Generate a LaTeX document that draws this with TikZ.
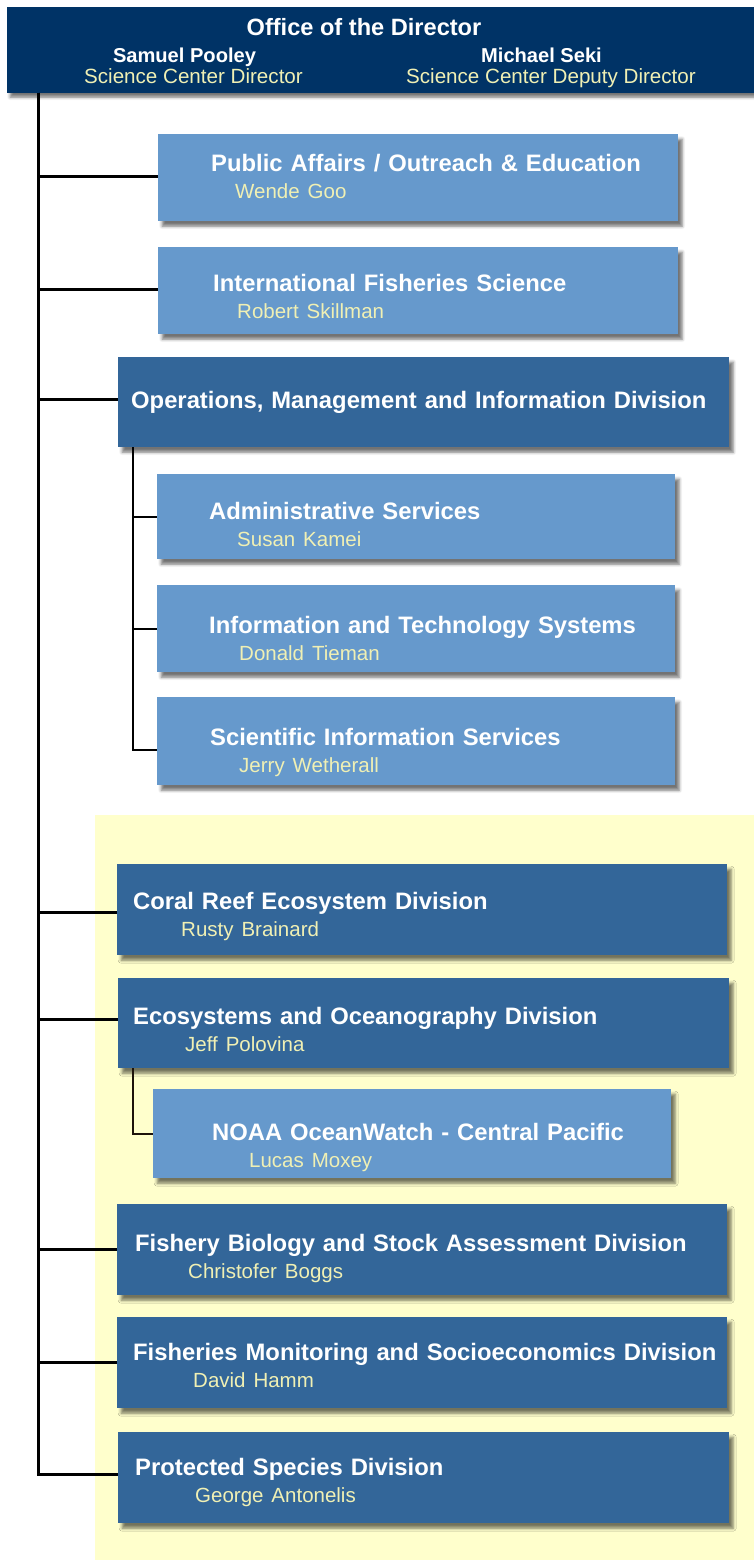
\documentclass[tikz,border=0pt]{standalone}
\usepackage{fontspec}
\setmainfont{Liberation Sans}
\usetikzlibrary{shadows.blur}
\definecolor{navy}{HTML}{003366}
\definecolor{darkblue}{HTML}{336699}
\definecolor{lightblue}{HTML}{6699CC}
\definecolor{paleyellow}{HTML}{FFFFCC}
\definecolor{nameyellow}{HTML}{F0F0B4}
\newcommand{\boxtitle}{\fontsize{23.8}{27}\selectfont\bfseries}
\newcommand{\boxname}{\fontsize{20.5}{27}\selectfont\mdseries\color{nameyellow}}
\tikzset{unit/.style={ % Sets the properties for each division box
rectangle, anchor=north west, inner sep=0pt,
align=left, text depth=32pt, % Title line plus name line
font=\boxtitle, text=white,
blur shadow={shadow xshift=4pt, shadow yshift=-5pt, shadow blur radius=3pt, shadow opacity=55}},
lightunit/.style={unit, fill=lightblue}, % Offices and branches
darkunit/.style={unit, fill=darkblue}, % Divisions
headline/.style={anchor=base, inner sep=0pt, text=white, font=\fontsize{23.6}{26}\selectfont\bfseries},
headname/.style={anchor=base, inner sep=0pt, text=white, font=\fontsize{20.1}{24}\selectfont\bfseries},
headrole/.style={anchor=base, inner sep=0pt, text=nameyellow, font=\fontsize{20.6}{24}\selectfont},
link/.style={draw, line width=3pt}, % Lines from the director
sublink/.style={draw, line width=2pt}} % Lines inside a division

\begin{document}
\begin{tikzpicture}[x=1pt, y=-1pt]
    \useasboundingbox (0,0) rectangle (754,1560);
    \fill[paleyellow] (95,815) rectangle (760,1565);

    % boxes
    \node[lightunit, text width=520, minimum height=87, text height=20] (pa) at (158,134)
        {\hspace*{53pt}Public Affairs / Outreach \& Education\\\hspace*{77pt}{\boxname Wende Goo}};
    \node[lightunit, text width=520, minimum height=87, text height=34] (ifs) at (158,247)
        {\hspace*{55pt}International Fisheries Science\\\hspace*{79pt}{\boxname Robert Skillman}};
    \node[darkunit, text width=611, minimum height=90, text height=18, text depth=5] (ops) at (118,357)
        {\hspace*{13pt}Operations, Management and Information Division};
    \node[lightunit, text width=518, minimum height=85, text height=38] (adm) at (157,474)
        {\hspace*{52pt}Administrative Services\\\hspace*{80pt}{\boxname Susan Kamei}};
    \node[lightunit, text width=518, minimum height=87, text height=42] (its) at (157,585)
        {\hspace*{52pt}Information and Technology Systems\\\hspace*{82pt}{\boxname Donald Tieman}};
    \node[lightunit, text width=518, minimum height=88, text height=41] (sis) at (157,697)
        {\hspace*{53pt}Scientific Information Services\\\hspace*{82pt}{\boxname Jerry Wetherall}};
    \node[darkunit, text width=610, minimum height=91, text height=32] (cre) at (117,864)
        {\hspace*{16pt}Coral Reef Ecosystem Division\\\hspace*{64pt}{\boxname Rusty Brainard}};
    \node[darkunit, text width=611, minimum height=90, text height=35] (eco) at (118,978)
        {\hspace*{15pt}Ecosystems and Oceanography Division\\\hspace*{67pt}{\boxname Jeff Polovina}};
    \node[lightunit, text width=518, minimum height=89, text height=45] (noaa) at (153,1089)
        {\hspace*{59pt}NOAA OceanWatch - Central Pacific\\\hspace*{96pt}{\boxname Lucas Moxey}};
    \node[darkunit, text width=610, minimum height=91, text height=36] (fbs) at (117,1204)
        {\hspace*{18pt}Fishery Biology and Stock Assessment Division\\\hspace*{71pt}{\boxname Christofer Boggs}};
    \node[darkunit, text width=610, minimum height=91, text height=27] (fms) at (117,1317)
        {\hspace*{16pt}Fisheries Monitoring and Socioeconomics Division\\\hspace*{76pt}{\boxname David Hamm}};
    \node[darkunit, text width=611, minimum height=91, text height=28] (psd) at (118,1432)
        {\hspace*{17pt}Protected Species Division\\\hspace*{77pt}{\boxname George Antonelis}};

    % office of the director
    \node[rectangle, anchor=north west, fill=navy, minimum width=760, minimum height=86,
        blur shadow={shadow xshift=3pt, shadow yshift=-4pt, shadow blur radius=3pt, shadow opacity=55}] (hdr) at (7,7) {};
    \node[headline] (office) at (364,35.5) {Office of the Director};
    \node[headname] (pooley) at (184.5,63) {Samuel Pooley};
    \node[headrole] (pooleyrole) at (193.5,84) {Science Center Director};
    \node[headname] (seki) at (541.5,63) {Michael Seki};
    \node[headrole] (sekirole) at (551,84) {Science Center Deputy Director};

    % connectors
    \coordinate (trunk) at (38,93);
    \coordinate (opsdrop) at (133,447);
    \coordinate (ecodrop) at (133,1068);
    \draw[link] (trunk) |- ([yshift=1pt]pa.west);
    \draw[link] (trunk) |- ([yshift=1pt]ifs.west);
    \draw[link] (trunk) |- ([yshift=3pt]ops.west);
    \draw[link] (trunk) |- ([yshift=-3pt]cre.west);
    \draw[link] (trunk) |- ([yshift=4pt]eco.west);
    \draw[link] (trunk) |- (fbs.west);
    \draw[link] (trunk) |- (fms.west);
    \draw[link] (trunk) |- ([yshift=3pt]psd.west);
    \draw[sublink] (opsdrop) |- (adm.west);
    \draw[sublink] (opsdrop) |- (its.west);
    \draw[sublink] (opsdrop) |- ([yshift=-9pt]sis.west);
    \draw[sublink, draw=black!85!brown] (ecodrop) |- (noaa.west);
\end{tikzpicture}
\end{document}
